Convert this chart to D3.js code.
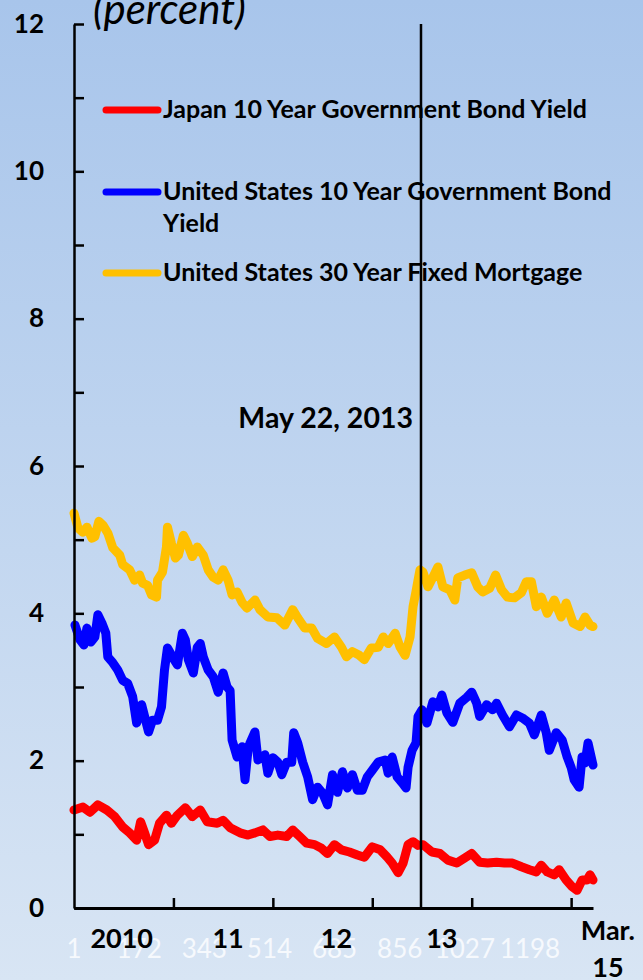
<!DOCTYPE html>
<html>
<head>
<meta charset="utf-8">
<script src="https://cdn.jsdelivr.net/npm/d3@7"></script>
<style>
body{margin:0;padding:0;}
svg text{font-family:Lato,"Open Sans",sans-serif;}
</style>
</head>
<body>
<div id="chart"></div>
<script>
// yields, percent; x = decimal year
var jgb10 = [[2010.00,1.33],[2010.09,1.37],[2010.16,1.30],[2010.24,1.40],[2010.33,1.33],[2010.41,1.24],[2010.49,1.10],[2010.56,1.02],[2010.63,0.92],[2010.67,1.17],[2010.71,1.02],[2010.75,0.86],[2010.81,0.92],[2010.86,1.15],[2010.93,1.26],[2010.98,1.15],[2011.04,1.26],[2011.12,1.36],[2011.19,1.24],[2011.27,1.33],[2011.34,1.17],[2011.44,1.15],[2011.50,1.19],[2011.57,1.09],[2011.67,1.02],[2011.75,0.99],[2011.82,1.02],[2011.90,1.06],[2011.97,0.97],[2012.05,0.99],[2012.14,0.97],[2012.20,1.06],[2012.27,0.97],[2012.34,0.88],[2012.42,0.86],[2012.49,0.81],[2012.55,0.74],[2012.62,0.86],[2012.69,0.79],[2012.77,0.76],[2012.85,0.72],[2012.92,0.69],[2013.00,0.83],[2013.08,0.79],[2013.15,0.69],[2013.20,0.61],[2013.26,0.48],[2013.31,0.61],[2013.36,0.86],[2013.41,0.90],[2013.46,0.85],[2013.51,0.86],[2013.60,0.76],[2013.68,0.74],[2013.76,0.65],[2013.85,0.61],[2013.93,0.68],[2014.00,0.74],[2014.08,0.62],[2014.16,0.61],[2014.25,0.62],[2014.33,0.61],[2014.41,0.61],[2014.50,0.56],[2014.58,0.52],[2014.65,0.49],[2014.70,0.58],[2014.76,0.49],[2014.83,0.45],[2014.88,0.52],[2014.95,0.38],[2015.01,0.29],[2015.06,0.24],[2015.11,0.38],[2015.16,0.38],[2015.19,0.45],[2015.22,0.38]];

var ust10 = [[2010.01,3.84],[2010.06,3.64],[2010.10,3.57],[2010.13,3.80],[2010.17,3.61],[2010.21,3.68],[2010.24,3.98],[2010.28,3.87],[2010.32,3.73],[2010.34,3.41],[2010.39,3.33],[2010.44,3.23],[2010.49,3.09],[2010.54,3.05],[2010.59,2.87],[2010.63,2.51],[2010.68,2.76],[2010.71,2.60],[2010.75,2.39],[2010.79,2.55],[2010.84,2.55],[2010.88,2.73],[2010.91,3.23],[2010.94,3.53],[2010.99,3.41],[2011.04,3.30],[2011.09,3.73],[2011.12,3.64],[2011.15,3.37],[2011.20,3.19],[2011.24,3.54],[2011.27,3.59],[2011.30,3.41],[2011.35,3.23],[2011.40,3.14],[2011.45,2.93],[2011.50,3.19],[2011.54,3.00],[2011.57,2.95],[2011.59,2.28],[2011.64,2.05],[2011.69,2.19],[2011.72,1.74],[2011.75,2.14],[2011.77,2.24],[2011.82,2.39],[2011.85,2.01],[2011.92,2.08],[2011.95,1.83],[2012.00,2.04],[2012.05,1.98],[2012.09,1.81],[2012.14,1.98],[2012.19,1.98],[2012.21,2.38],[2012.25,2.24],[2012.30,1.98],[2012.35,1.78],[2012.40,1.47],[2012.45,1.64],[2012.50,1.56],[2012.55,1.40],[2012.60,1.81],[2012.65,1.57],[2012.70,1.85],[2012.75,1.63],[2012.80,1.81],[2012.85,1.60],[2012.90,1.60],[2012.95,1.78],[2013.00,1.87],[2013.06,1.98],[2013.13,2.01],[2013.16,1.83],[2013.20,2.05],[2013.25,1.78],[2013.30,1.70],[2013.34,1.63],[2013.36,1.91],[2013.40,2.14],[2013.44,2.24],[2013.46,2.60],[2013.50,2.69],[2013.55,2.51],[2013.61,2.80],[2013.66,2.73],[2013.70,2.89],[2013.75,2.65],[2013.81,2.52],[2013.88,2.78],[2013.95,2.86],[2014.00,2.93],[2014.05,2.78],[2014.08,2.60],[2014.15,2.76],[2014.21,2.69],[2014.25,2.78],[2014.31,2.62],[2014.38,2.46],[2014.45,2.62],[2014.51,2.58],[2014.58,2.51],[2014.63,2.35],[2014.70,2.62],[2014.75,2.38],[2014.78,2.14],[2014.85,2.38],[2014.91,2.28],[2014.96,2.05],[2015.00,1.91],[2015.03,1.74],[2015.08,1.64],[2015.11,2.05],[2015.14,1.97],[2015.17,2.24],[2015.22,1.94]];

var mortgage30 = [[2010.00,5.36],[2010.04,5.16],[2010.09,5.10],[2010.13,5.17],[2010.18,5.02],[2010.21,5.04],[2010.25,5.25],[2010.29,5.20],[2010.34,5.09],[2010.39,4.89],[2010.46,4.79],[2010.49,4.66],[2010.56,4.59],[2010.61,4.45],[2010.66,4.52],[2010.69,4.41],[2010.74,4.38],[2010.78,4.25],[2010.83,4.22],[2010.84,4.45],[2010.89,4.56],[2010.93,4.90],[2010.94,5.17],[2010.98,4.95],[2011.02,4.75],[2011.05,4.79],[2011.10,5.06],[2011.14,4.95],[2011.19,4.77],[2011.24,4.90],[2011.30,4.79],[2011.35,4.59],[2011.40,4.49],[2011.45,4.45],[2011.50,4.59],[2011.55,4.45],[2011.59,4.25],[2011.64,4.29],[2011.69,4.15],[2011.74,4.07],[2011.82,4.18],[2011.87,4.05],[2011.95,3.95],[2012.04,3.94],[2012.12,3.84],[2012.20,4.05],[2012.25,3.94],[2012.32,3.80],[2012.39,3.80],[2012.45,3.66],[2012.54,3.59],[2012.62,3.68],[2012.69,3.54],[2012.74,3.41],[2012.80,3.48],[2012.87,3.43],[2012.92,3.37],[2012.99,3.53],[2013.06,3.54],[2013.11,3.68],[2013.16,3.59],[2013.23,3.73],[2013.28,3.54],[2013.33,3.43],[2013.38,3.68],[2013.41,4.09],[2013.44,4.30],[2013.46,4.45],[2013.48,4.59],[2013.51,4.56],[2013.56,4.36],[2013.61,4.49],[2013.66,4.63],[2013.71,4.36],[2013.78,4.32],[2013.83,4.18],[2013.86,4.48],[2013.93,4.52],[2014.00,4.55],[2014.06,4.36],[2014.11,4.29],[2014.18,4.34],[2014.24,4.52],[2014.30,4.32],[2014.36,4.22],[2014.43,4.21],[2014.50,4.28],[2014.55,4.43],[2014.60,4.43],[2014.65,4.09],[2014.70,4.22],[2014.76,4.00],[2014.83,4.18],[2014.90,3.95],[2014.95,4.14],[2015.02,3.87],[2015.09,3.82],[2015.14,3.95],[2015.19,3.84],[2015.22,3.82]];

var seriesNames = ['Japan 10 Year Government Bond Yield','United States 10 Year Government Bond Yield','United States 30 Year Fixed Mortgage'];
var seriesColors = ['#ff0000','#0000ff','#ffc000'];

var yTicks = [0,1,2,3,4,5,6,7,8,9,10,11,12];
var yearTicks = [2011,2012,2013,2014,2015];
var yearLabels = ['2010','11','12','13'];
var yearLabelAt = [2010.48,2011.55,2012.64,2013.70];
var endLabel = ['Mar.','15'];
var endLabelAt = 2015.37;
var indexLabels = [1,172,343,514,685,856,1027,1198];
var eventLabel = 'May 22, 2013';
var eventAt = 2013.49;

let w = 643, h = 980;
let padLeft = 74, padRight = 593, padTop = 24, padBottom = 908;

var svg = d3.select('#chart')
    .append('svg')
    .attr('width', w)
    .attr('height', h);

var grad = svg.append('defs')
    .append('linearGradient')
    .attr('id', 'bg')
    .attr('x1', 0).attr('y1', 0).attr('x2', 0).attr('y2', 1);
grad.append('stop').attr('offset', '0%').attr('stop-color', '#a8c5eb');
grad.append('stop').attr('offset', '100%').attr('stop-color', '#d8e5f4');

svg.append('rect')
    .attr('width', w)
    .attr('height', h)
    .attr('fill', 'url(#bg)');

var xScale = d3.scaleLinear()
    .domain([2010, 2015.22])
    .range([padLeft, padRight]);

// trading-day index, 261 days a year
var idxScale = d3.scaleLinear()
    .domain([1, 1 + 5.22 * 261])
    .range([padLeft, padRight]);

var yScale = d3.scaleLinear()
    .domain([0, 12])
    .range([padBottom, padTop]);

var yAxis = d3.axisLeft(yScale)
    .tickValues(yTicks)
    .tickSizeInner(-10)
    .tickSizeOuter(0)
    .tickPadding(30)
    .tickFormat(function(d){ return d % 2 == 0 ? d : ''; });

var xAxis = d3.axisBottom(xScale)
    .tickValues(yearTicks)
    .tickSizeInner(-10)
    .tickSizeOuter(0)
    .tickFormat('');

// leftover white index labels
svg.selectAll('idxtext')
    .data(indexLabels)
    .enter()
    .append('text')
    .attr('x', function(d){ return idxScale(d); })
    .attr('y', 958)
    .attr('text-anchor', 'middle')
    .attr('fill', '#f6f9fd')
    .style('font-size', '26px')
    .text(function(d){ return d; });

var line = d3.line()
    .x(function(d){ return xScale(d[0]); })
    .y(function(d){ return yScale(d[1]); });

[mortgage30, ust10, jgb10].forEach(function(s, i){
    svg.append('path')
        .datum(s)
        .attr('d', line)
        .attr('fill', 'none')
        .attr('stroke', seriesColors[2 - i])
        .attr('stroke-width', 9)
        .attr('stroke-linejoin', 'round')
        .attr('stroke-linecap', 'round');
});

var gy = svg.append('g')
    .attr('transform', 'translate(' + padLeft + ',0)')
    .call(yAxis);
gy.select('.domain').attr('stroke-width', 2.5);
gy.selectAll('.tick line').attr('stroke-width', 2.5);
gy.selectAll('.tick text')
    .attr('fill', '#000')
    .style('font-family', 'Lato')
    .style('font-weight', 'bold')
    .style('font-size', '26px');

var gx = svg.append('g')
    .attr('transform', 'translate(0,' + padBottom + ')')
    .call(xAxis);
gx.select('.domain').attr('stroke-width', 3);
gx.selectAll('.tick line').attr('stroke-width', 2.5);

svg.selectAll('yeartext')
    .data(yearLabels)
    .enter()
    .append('text')
    .attr('x', function(d, i){ return xScale(yearLabelAt[i]); })
    .attr('y', 948)
    .attr('text-anchor', 'middle')
    .style('font-weight', 'bold')
    .style('font-size', '27px')
    .text(function(d){ return d; });

svg.selectAll('endtext')
    .data(endLabel)
    .enter()
    .append('text')
    .attr('x', xScale(endLabelAt))
    .attr('y', function(d, i){ return 940 + 37 * i; })
    .attr('text-anchor', 'middle')
    .style('font-weight', 'bold')
    .style('font-size', '27px')
    .text(function(d){ return d; });

svg.append('text')
    .attr('x', 93)
    .attr('y', 24)
    .style('font-style', 'italic')
    .style('font-size', '42px')
    .text('(percent)');

// legend
var legendRows = [
    {y: 110, lines: [seriesNames[0]]},
    {y: 192, lines: ['United States 10 Year Government Bond', 'Yield']},
    {y: 273, lines: [seriesNames[2]]}
];
legendRows.forEach(function(r, i){
    svg.append('line')
        .attr('x1', 106).attr('x2', 158)
        .attr('y1', r.y).attr('y2', r.y)
        .attr('stroke', seriesColors[i])
        .attr('stroke-width', 7)
        .attr('stroke-linecap', 'round');
    r.lines.forEach(function(t, j){
        svg.append('text')
            .attr('x', 163)
            .attr('y', r.y + 8 + 32 * j)
            .style('font-weight', 'bold')
            .style('font-size', '25px')
            .text(t);
    });
});

svg.append('text')
    .attr('x', xScale(eventAt) - 8)
    .attr('y', 428)
    .attr('text-anchor', 'end')
    .style('font-weight', 'bold')
    .style('font-size', '28.5px')
    .text(eventLabel);

svg.append('line')
    .attr('x1', xScale(eventAt)).attr('x2', xScale(eventAt))
    .attr('y1', yScale(12)).attr('y2', yScale(0))
    .attr('stroke', '#000')
    .attr('stroke-width', 2.5);
</script>
</body>
</html>
